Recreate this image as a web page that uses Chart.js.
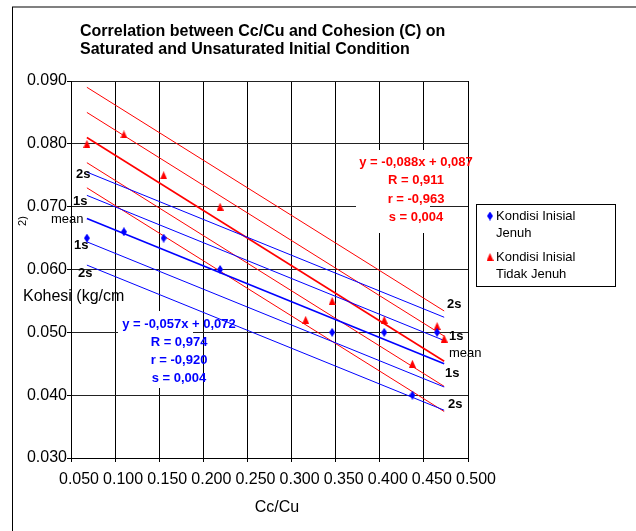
<!DOCTYPE html>
<html>
<head>
<meta charset="utf-8">
<script src="https://cdn.jsdelivr.net/npm/chart.js@4"></script>
<style>
  body { margin: 0; background: #fff; }
  canvas { display: block; }
</style>
</head>
<body>
<canvas id="chart" width="636" height="531"></canvas>
<script>
// tick values
const xTicks = [0.05, 0.1, 0.15, 0.2, 0.25, 0.3, 0.35, 0.4, 0.45, 0.5];
const yTicks = [0.03, 0.04, 0.05, 0.06, 0.07, 0.08, 0.09];

// Kondisi Inisial Jenuh (blue diamonds)
const jenuhX = [0.068, 0.110, 0.155, 0.219, 0.346, 0.405, 0.465, 0.437];
const jenuhY = [0.065, 0.066, 0.065, 0.060, 0.050, 0.050, 0.050, 0.040];

// Kondisi Inisial Tidak Jenuh (red triangles)
const tidakX = [0.068, 0.110, 0.155, 0.219, 0.316, 0.346, 0.405, 0.437, 0.465, 0.473];
const tidakY = [0.080, 0.0815, 0.075, 0.070, 0.052, 0.055, 0.052, 0.045, 0.051, 0.049];

// fitted lines: start / end values at fitX, order +2s, +1s, mean, -1s, -2s
const fitX = [0.068, 0.473];
const bandNames = ['+2s', '+1s', 'mean', '-1s', '-2s'];
const redBands = [[0.0890, 0.0534], [0.0850, 0.0494], [0.0810, 0.0454], [0.0770, 0.0414], [0.0730, 0.0374]];
const blueBands = [[0.0755, 0.0524], [0.0718, 0.0487], [0.0681, 0.0450], [0.0644, 0.0413], [0.0607, 0.0376]];

const redText = ['y = -0,088x + 0,087', 'R = 0,911', 'r = -0,963', 's = 0,004'];
const blueText = ['y = -0,057x + 0,072', 'R = 0,974', 'r = -0,920', 's = 0,004'];

const FONT = "'Liberation Sans', Arial, sans-serif";
const RED = '#ff0000';
const BLUE = '#0000ff';

function marker(color, shape) {
    const c = document.createElement('canvas');
    const g = c.getContext('2d');
    if (shape === 'diamond') {
        c.width = 6; c.height = 9;
        g.fillStyle = color;
        g.beginPath();
        g.moveTo(3, 0); g.lineTo(6, 4.5); g.lineTo(3, 9); g.lineTo(0, 4.5);
    } else {
        c.width = 7; c.height = 8;
        g.fillStyle = color;
        g.beginPath();
        g.moveTo(3.5, 0); g.lineTo(7, 8); g.lineTo(0, 8);
    }
    g.closePath();
    g.fill();
    return c;
}
const diamond = marker(BLUE, 'diamond');
const triangle = marker(RED, 'triangle');

const datasets = [];
datasets.push({
    label: 'Kondisi Inisial Jenuh',
    data: jenuhX.map((x, i) => ({ x: x, y: jenuhY[i] })),
    pointStyle: diamond, showLine: false
});
datasets.push({
    label: 'Kondisi Inisial Tidak Jenuh',
    data: tidakX.map((x, i) => ({ x: x, y: tidakY[i] })),
    pointStyle: triangle, showLine: false
});
bandNames.forEach((name, i) => {
    datasets.push({
        label: 'Jenuh ' + name,
        data: fitX.map((x, j) => ({ x: x, y: blueBands[i][j] })),
        showLine: true, borderColor: BLUE, borderWidth: name === 'mean' ? 1.6 : 1, pointRadius: 0
    });
});
bandNames.forEach((name, i) => {
    datasets.push({
        label: 'Tidak Jenuh ' + name,
        data: fitX.map((x, j) => ({ x: x, y: redBands[i][j] })),
        showLine: true, borderColor: RED, borderWidth: name === 'mean' ? 1.6 : 1, pointRadius: 0
    });
});

function textLines(ctx, lines, cx, y0, step) {
    lines.forEach((t, i) => ctx.fillText(t, cx, y0 + i * step));
}

const decorations = {
    id: 'decorations',
    beforeDatasetsDraw(chart) {
        const ctx = chart.ctx;
        ctx.save();
        // white text boxes for the fit statistics
        ctx.fillStyle = '#fff';
        ctx.fillRect(356, 150, 74, 83);
        ctx.fillRect(118, 311, 75, 77);
        ctx.font = 'bold 13px ' + FONT;
        ctx.textAlign = 'center';
        ctx.textBaseline = 'middle';
        ctx.fillStyle = RED;
        textLines(ctx, redText, 416, 162, 18.5);
        ctx.fillStyle = BLUE;
        textLines(ctx, blueText, 179, 324, 18.2);
        ctx.restore();
    },
    afterDraw(chart) {
        const ctx = chart.ctx;
        const ys = chart.scales.y;
        ctx.save();

        // outer frame
        ctx.strokeStyle = '#808080';
        ctx.lineWidth = 2;
        ctx.beginPath(); ctx.moveTo(12, 7); ctx.lineTo(636, 7); ctx.stroke();
        ctx.strokeStyle = '#000';
        ctx.lineWidth = 1;
        ctx.beginPath(); ctx.moveTo(12.5, 7); ctx.lineTo(12.5, 531); ctx.stroke();

        // title
        ctx.fillStyle = '#000';
        ctx.font = 'bold 16px ' + FONT;
        ctx.textAlign = 'left';
        ctx.textBaseline = 'middle';
        ctx.fillText('Correlation between Cc/Cu and Cohesion (C) on', 80, 32);
        ctx.fillText('Saturated and Unsaturated Initial Condition', 80, 50);

        // axis titles
        ctx.font = '16px ' + FONT;
        ctx.fillText('Kohesi (kg/cm', 23, 297);
        ctx.textAlign = 'center';
        ctx.fillText('Cc/Cu', 277, 508);
        ctx.save();
        ctx.translate(23, 221);
        ctx.rotate(-Math.PI / 2);
        ctx.font = '11px ' + FONT;
        ctx.fillText('2)', 0, 0);
        ctx.restore();

        // band labels on both ends of the fitted lines
        const left = [['2s', 0.0752], ['1s', 0.0709], ['mean', 0.0680], ['1s', 0.0639], ['2s', 0.0593]];
        const leftX = [76, 73, 51, 74, 78];
        const right = [['2s', 0.0545], ['1s', 0.0493], ['mean', 0.0466], ['1s', 0.0434], ['2s', 0.0385]];
        const rightX = [447, 449, 449, 445, 448];
        ctx.textAlign = 'left';
        left.forEach((l, i) => {
            ctx.font = (l[0] === 'mean' ? '13px ' : 'bold 13px ') + FONT;
            ctx.fillText(l[0], leftX[i], ys.getPixelForValue(l[1]));
        });
        right.forEach((l, i) => {
            ctx.font = (l[0] === 'mean' ? '13px ' : 'bold 13px ') + FONT;
            ctx.fillText(l[0], rightX[i], ys.getPixelForValue(l[1]));
        });

        // legend
        ctx.strokeStyle = '#000';
        ctx.lineWidth = 1;
        ctx.strokeRect(476.5, 204.5, 139, 82);
        ctx.font = '13px ' + FONT;
        ctx.drawImage(diamond, 487, 211.5);
        ctx.fillText('Kondisi Inisial', 496, 216);
        ctx.fillText('Jenuh', 496, 233);
        ctx.drawImage(triangle, 486.5, 253);
        ctx.fillText('Kondisi Inisial', 496, 257);
        ctx.fillText('Tidak Jenuh', 496, 274);

        ctx.restore();
    }
};

const tickFont = { family: FONT, size: 16 };

new Chart(document.getElementById('chart'), {
    type: 'scatter',
    data: { datasets: datasets },
    options: {
        responsive: false,
        animation: false,
        layout: { padding: { top: 81, right: 168, left: 0, bottom: 0 } },
        plugins: { legend: { display: false }, tooltip: { enabled: false } },
        scales: {
            x: {
                type: 'linear', min: 0.05, max: 0.5,
                afterBuildTicks: s => { s.ticks = xTicks.map(v => ({ value: v })); },
                afterFit: s => { s.height = 73; },
                grid: { color: '#000', tickColor: '#000', tickLength: 4 },
                border: { color: '#000' },
                ticks: {
                    callback: v => v.toFixed(3), font: tickFont, color: '#000',
                    padding: 8, labelOffset: 8, maxRotation: 0, autoSkip: false
                }
            },
            y: {
                type: 'linear', min: 0.03, max: 0.09,
                afterBuildTicks: s => { s.ticks = yTicks.map(v => ({ value: v })); },
                afterFit: s => { s.width = 71; },
                grid: { color: '#222', tickColor: '#000', tickLength: 4 },
                border: { color: '#000' },
                ticks: {
                    callback: v => v.toFixed(3), font: tickFont, color: '#000',
                    padding: 0, autoSkip: false
                }
            }
        }
    },
    plugins: [decorations]
});
</script>
</body>
</html>
